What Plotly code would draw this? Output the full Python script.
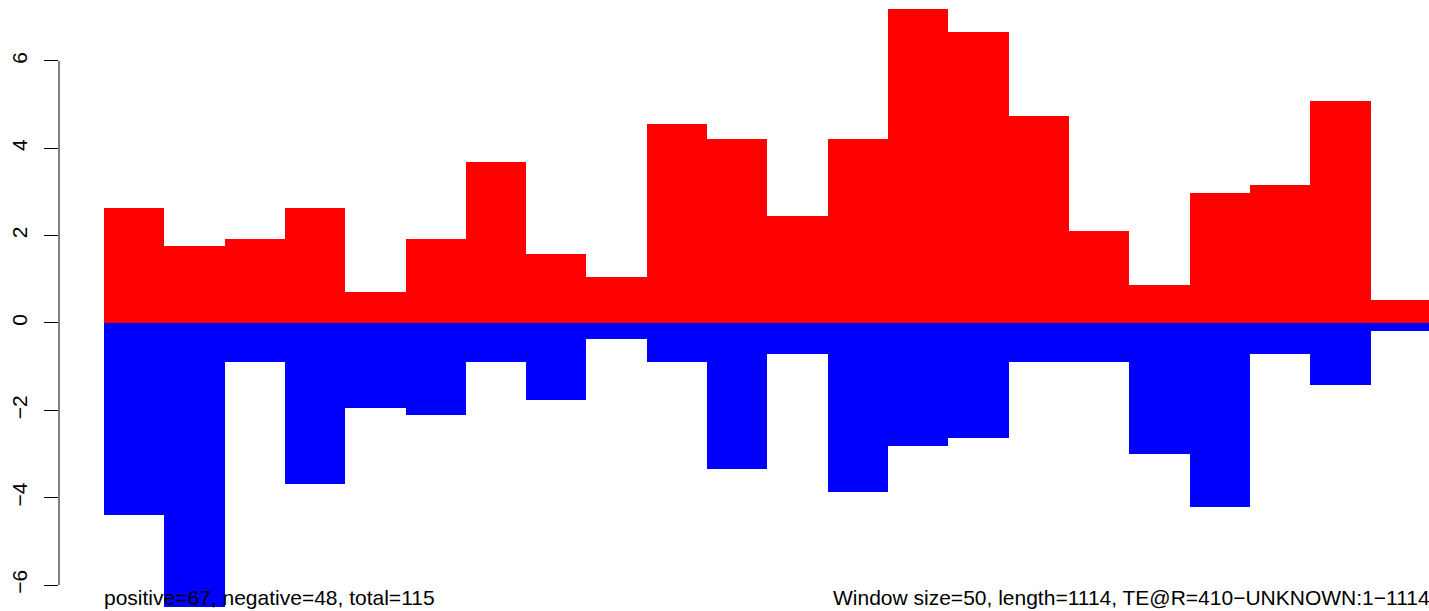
import plotly.graph_objects as go

# valores (ventanas de 50 pb)
ventanas = list(range(22))
positivos = [2.63, 1.76, 1.92, 2.63, 0.71, 1.92, 3.69, 1.58, 1.05, 4.56, 4.21,
             2.45, 4.21, 7.19, 6.66, 4.74, 2.11, 0.87, 2.98, 3.16, 5.08, 0.53]
negativos = [-4.40, -6.50, -0.89, -3.69, -1.95, -2.11, -0.89, -1.76, -0.37, -0.89, -3.34,
             -0.71, -3.87, -2.82, -2.63, -0.89, -0.89, -3.00, -4.21, -0.71, -1.42, -0.18]
y_ticks = [-6, -4, -2, 0, 2, 4, 6]
y_labels = ["\u22126", "\u22124", "\u22122", "0", "2", "4", "6"]

texto_izq = "positive=67, negative=48, total=115"
texto_der = "Window size=50, length=1114, TE@R=410\u2212UNKNOWN:1\u22121114"

fig = go.Figure()
fig.add_trace(go.Bar(x=ventanas, y=positivos, marker=dict(color="#FF0000", line=dict(width=0))))
fig.add_trace(go.Bar(x=ventanas, y=negativos, marker=dict(color="#0000FF", line=dict(width=0))))

fig.update_layout(
    width=1429, height=611,
    margin=dict(l=59, r=0, t=0, b=0, autoexpand=False),
    barmode="relative", bargap=0,
    showlegend=False,
    plot_bgcolor="white", paper_bgcolor="white",
    font=dict(family="Liberation Sans, Arial, sans-serif", color="black"),
)
fig.update_xaxes(range=[-1.246, 21.47], visible=False)
fig.update_yaxes(
    range=[-6.595, 7.396], showgrid=False, zeroline=False, showline=False,
    tickvals=y_ticks, ticktext=y_labels, tickangle=-90,
    ticks="outside", ticklen=14, tickwidth=1, tickcolor="black",
    tickfont=dict(size=21), ticklabelstandoff=9,
)

# linea del eje solo entre -6 y 6, como en R
fig.add_shape(type="line", xref="paper", yref="y", x0=0, x1=0, y0=-6, y1=6,
              line=dict(color="black", width=1))

fig.add_annotation(text=texto_izq, xref="x", yref="y", x=-0.5, y=-6.28, xshift=-2,
                   xanchor="left", yanchor="middle", showarrow=False, font=dict(size=21))
fig.add_annotation(text=texto_der, xref="paper", yref="y", x=1, y=-6.28, xshift=3,
                   xanchor="right", yanchor="middle", showarrow=False, font=dict(size=21))

# quitar el margen del body para que la figura empiece en (0, 0)
fig.write_html("out.html", config={"displayModeBar": False},
               post_script="document.body.style.margin='0';document.body.style.overflow='hidden';")
